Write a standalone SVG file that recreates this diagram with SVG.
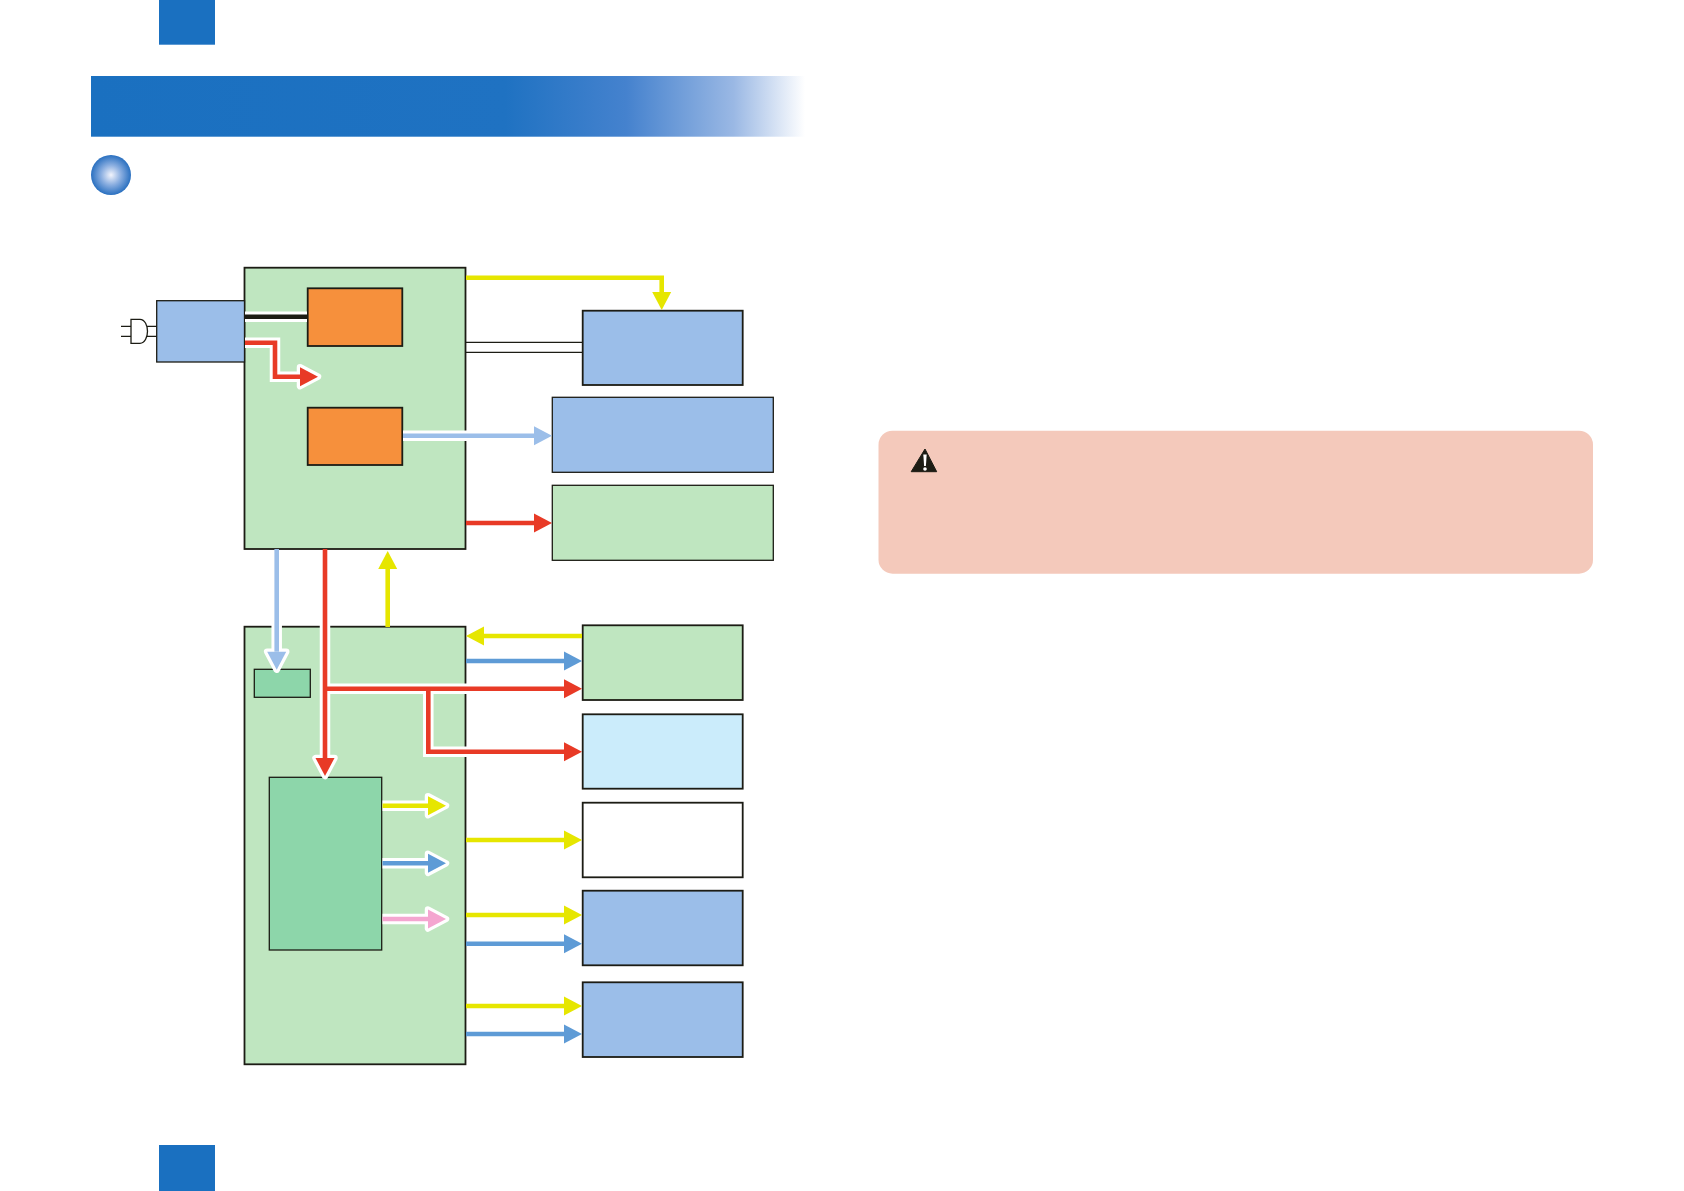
<svg xmlns="http://www.w3.org/2000/svg" width="1684" height="1191" viewBox="0 0 1684 1191">
<style>
.box{stroke:#1c1c14;stroke-width:1.3}
.thick{stroke-width:1.8}
.green{fill:#bfe6c0}.blue{fill:#9bbee9}.orange{fill:#f6903c}.mid{fill:#8dd6aa}.sky{fill:#cbecfb}.white{fill:#fff}
.c{fill:none;stroke-width:4.6;stroke-linejoin:miter}
.halo{fill:none;stroke:#fff;stroke-width:10.5;marker-end:url(#hw)}
.halon{fill:none;stroke:#fff;stroke-width:10.5}
.y{stroke:#e6e600;marker-end:url(#hy)}.r{stroke:#e83a26;marker-end:url(#hr)}.b{stroke:#5e9bd6;marker-end:url(#hb)}.l{stroke:#9bbee9;marker-end:url(#hl)}.p{stroke:#f4a6d0;marker-end:url(#hp)}
.thin{fill:none;stroke:#1c1c14;stroke-width:1.3}
</style>
<defs>
<linearGradient id="banner" x1="0" x2="1" y1="0" y2="0">
<stop offset="0" stop-color="#1a70c0"/><stop offset="0.58" stop-color="#1f72c2"/><stop offset="0.75" stop-color="#4582ce"/><stop offset="0.9" stop-color="#9ab8e4"/><stop offset="1" stop-color="#fff"/>
</linearGradient>
<radialGradient id="ball"><stop offset="0" stop-color="#f2f4fc"/><stop offset="0.5" stop-color="#8aaee0"/><stop offset="1" stop-color="#2a70c0"/></radialGradient>
<marker id="hw" markerUnits="userSpaceOnUse" markerWidth="34" markerHeight="34" refX="0" refY="0" viewBox="-7 -17 34 34" orient="auto" overflow="visible"><path d="M0-9.5 18 0 0 9.5z" fill="#fff" stroke="#fff" stroke-width="6.5" stroke-linejoin="round"/></marker>
<marker id="hy" markerUnits="userSpaceOnUse" markerWidth="34" markerHeight="34" refX="0" refY="0" viewBox="-7 -17 34 34" orient="auto" overflow="visible"><path d="M0-9.5 18 0 0 9.5z" fill="#e6e600"/></marker>
<marker id="hr" markerUnits="userSpaceOnUse" markerWidth="34" markerHeight="34" refX="0" refY="0" viewBox="-7 -17 34 34" orient="auto" overflow="visible"><path d="M0-9.5 18 0 0 9.5z" fill="#e83a26"/></marker>
<marker id="hb" markerUnits="userSpaceOnUse" markerWidth="34" markerHeight="34" refX="0" refY="0" viewBox="-7 -17 34 34" orient="auto" overflow="visible"><path d="M0-9.5 18 0 0 9.5z" fill="#5e9bd6"/></marker>
<marker id="hl" markerUnits="userSpaceOnUse" markerWidth="34" markerHeight="34" refX="0" refY="0" viewBox="-7 -17 34 34" orient="auto" overflow="visible"><path d="M0-9.5 18 0 0 9.5z" fill="#9bbee9"/></marker>
<marker id="hp" markerUnits="userSpaceOnUse" markerWidth="34" markerHeight="34" refX="0" refY="0" viewBox="-7 -17 34 34" orient="auto" overflow="visible"><path d="M0-9.5 18 0 0 9.5z" fill="#f4a6d0"/></marker>
</defs>
<rect width="1684" height="1191" fill="#fff"/>
<g id="page-furniture">
<rect x="159" y="0" width="56" height="44.7" fill="#1a70c0"/>
<rect x="159" y="1145" width="56" height="46" fill="#1a70c0"/>
<rect x="91" y="76" width="714" height="60.7" fill="url(#banner)"/>
<circle cx="111" cy="175" r="20" fill="url(#ball)"/>
</g>
<g id="caution">
<rect x="878.5" y="430.7" width="714.5" height="143" rx="14" fill="#f4c9bb"/>
<path d="M925 449 936.7 471.7H911.2Z" fill="#1c1c14" stroke="#1c1c14" stroke-width="1" stroke-linejoin="round"/>
<path d="M923.3 454.5H926.7L925.9 466H924.1Z" fill="#fff"/>
<circle cx="925" cy="469" r="1.8" fill="#fff"/>
</g>
<g id="plug">
<path class="thin" d="M121 326.3H131M121 336.3H131M147 326.3H157M147 336.3H157M131 319.3H140C145 319.3 147.5 326 147.5 331.3S145 343.3 140 343.3H131Z"/>
</g>
<g id="node-power-top"><rect class="box thick green" x="244.5" y="267.7" width="221" height="281.3"/></g>
<g id="node-inlet"><rect class="box blue" x="156.7" y="300.7" width="87.8" height="61.3"/></g>
<g id="node-orange-1"><rect class="box thick orange" x="307.7" y="288.3" width="94.6" height="57.7"/></g>
<g id="node-orange-2"><rect class="box thick orange" x="307.7" y="407.7" width="94.6" height="57.3"/></g>
<g id="node-a"><rect class="box thick blue" x="582.7" y="310.7" width="160" height="74.3"/></g>
<g id="node-b"><rect class="box blue" x="552.3" y="397.3" width="221" height="75"/></g>
<g id="node-c"><rect class="box green" x="552.3" y="485.3" width="221" height="75"/></g>
<g id="node-power-bottom"><rect class="box thick green" x="244.5" y="626.7" width="221" height="437.6"/></g>
<g id="node-small"><rect class="box mid" x="254.3" y="669.3" width="56" height="28"/></g>
<g id="node-big"><rect class="box mid" x="269.3" y="777.3" width="112.4" height="172.7"/></g>
<g id="node-d"><rect class="box thick green" x="582.7" y="625.3" width="160" height="74.7"/></g>
<g id="node-e"><rect class="box thick sky" x="582.7" y="714.3" width="160" height="74.4"/></g>
<g id="node-f"><rect class="box thick white" x="582.7" y="802.7" width="160" height="74.6"/></g>
<g id="node-g"><rect class="box thick blue" x="582.7" y="890.7" width="160" height="74.6"/></g>
<g id="node-h"><rect class="box thick blue" x="582.7" y="982.3" width="160" height="74.7"/></g>
<g id="connectors">
<path class="halon" d="M245 316.7H307"/>
<path class="halo" d="M245 342.7H275V376.7H300"/>
<path class="halon" d="M403 435.7H470"/>
<path class="halo" d="M276.7 622V651.7"/>
<path class="halo" d="M325 622V758"/>
<path class="halon" d="M325 688.7H470M428.3 688.7V751.7H470"/>
<path class="halo" d="M382.5 805.7H428"/>
<path class="halo" d="M382.5 863.3H428"/>
<path class="halo" d="M382.5 919H428"/>
<path class="c" stroke="#1c1c14" d="M245 316.7H307"/>
<path class="c r" d="M245 342.7H275V376.7H300"/>
<path class="thin" d="M466 342.3H582.7M466 352.3H582.7"/>
<path class="c y" d="M466 277.7H661.7V292"/>
<path class="c l" d="M403 435.7H534"/>
<path class="c r" d="M466 523H534"/>
<path class="c l" d="M276.7 549V651.7"/>
<path class="c r" d="M325 549V758"/>
<path class="c y" d="M387.7 627V569"/>
<path class="c y" d="M582 636H484"/>
<path class="c b" d="M466 661H564"/>
<path class="c r" d="M325 688.7H564"/>
<path class="c r" d="M428.3 688.7V751.7H564"/>
<path class="c y" d="M382.5 805.7H428"/>
<path class="c b" d="M382.5 863.3H428"/>
<path class="c p" d="M382.5 919H428"/>
<path class="c y" d="M466 840H564"/>
<path class="c y" d="M466 915H564"/>
<path class="c b" d="M466 943.7H564"/>
<path class="c y" d="M466 1006H564"/>
<path class="c b" d="M466 1034H564"/>
</g>
</svg>
